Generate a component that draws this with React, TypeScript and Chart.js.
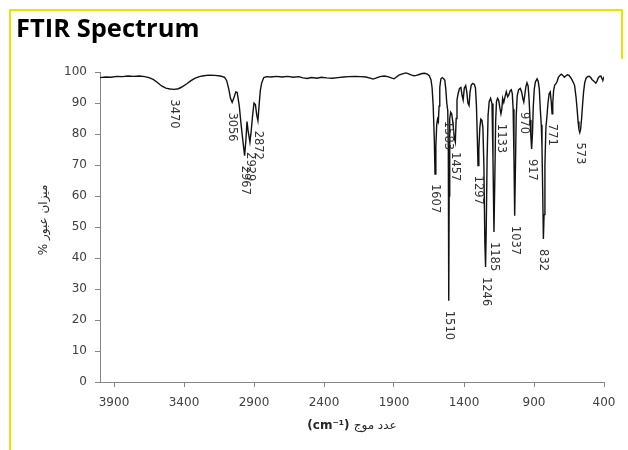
import { useEffect, useRef } from "react";
import { Chart, registerables } from "chart.js";
Chart.register(...registerables);

const wavenumbers = [
  4000, 3960, 3920, 3880, 3840, 3800, 3760, 3720, 3680, 3650, 3620, 3590, 3560, 3530, 3500, 3470, 3440, 3410, 3380, 3350,
  3320, 3290, 3260, 3220, 3180, 3140, 3110, 3095, 3080, 3068, 3056, 3045, 3030, 3020, 3005, 2992, 2980, 2967, 2958, 2950,
  2942, 2929, 2920, 2910, 2900, 2890, 2880, 2872, 2864, 2855, 2845, 2830, 2810, 2780, 2740, 2700, 2660, 2620, 2580, 2550,
  2520, 2490, 2450, 2420, 2380, 2340, 2300, 2260, 2220, 2180, 2140, 2100, 2070, 2050, 2030, 2000, 1970, 1945, 1920, 1900,
  1885, 1865, 1840, 1815, 1795, 1775, 1755, 1740, 1720, 1700, 1680, 1662, 1648, 1636, 1628, 1620, 1612, 1607, 1601, 1595,
  1589, 1583, 1578, 1573, 1565, 1555, 1545, 1537, 1530, 1523, 1516, 1512, 1509, 1506, 1502, 1495, 1488, 1480, 1470, 1462,
  1456, 1450, 1442, 1432, 1422, 1414, 1406, 1398, 1388, 1380, 1372, 1364, 1357, 1348, 1338, 1326, 1318, 1311, 1305, 1300,
  1294, 1287, 1280, 1272, 1265, 1258, 1251, 1246, 1241, 1235, 1228, 1220, 1210, 1200, 1193, 1186, 1180, 1174, 1168, 1160,
  1152, 1144, 1136, 1130, 1124, 1116, 1108, 1098, 1088, 1080, 1070, 1062, 1055, 1049, 1043, 1038, 1033, 1027, 1020, 1010,
  998, 988, 980, 973, 966, 958, 950, 942, 935, 928, 922, 917, 911, 905, 898, 890, 878, 870, 862, 855,
  848, 843, 838, 833, 828, 822, 815, 808, 800, 792, 784, 777, 771, 766, 760, 752, 742, 734, 726, 715,
  705, 694, 683, 673, 662, 650, 640, 630, 620, 610, 600, 592, 585, 579, 573, 567, 560, 553, 546, 538,
  528, 518, 506, 496, 486, 476, 466, 458, 450, 442, 432, 422, 414, 408, 402, 400,
];

const transmittance = [
  98.2, 98.4, 98.3, 98.6, 98.5, 98.7, 98.6, 98.7, 98.5, 98.2, 97.6, 96.6, 95.5, 94.8, 94.5, 94.4, 94.6, 95.3, 96.2, 97.2,
  98.0, 98.5, 98.8, 99.0, 98.9, 98.7, 98.3, 97.2, 94.5, 91.5, 90.2, 91.5, 93.6, 93.4, 89, 83, 78, 73.0, 78, 84,
  81, 77.4, 81, 86, 90, 89.5, 86, 84.3, 89, 94, 96.5, 98.2, 98.5, 98.4, 98.6, 98.4, 98.6, 98.3, 98.5, 98.1,
  97.9, 98.2, 98.0, 98.3, 98.1, 98.0, 98.2, 98.4, 98.5, 98.6, 98.5, 98.4, 98.0, 97.7, 98.0, 98.5, 98.7, 98.5, 98.1, 97.8,
  98.3, 99.0, 99.4, 99.7, 99.4, 99.0, 98.8, 98.9, 99.2, 99.5, 99.6, 99.3, 98.8, 97.5, 95, 89, 78, 67.1, 76, 83,
  84.8, 84, 89, 95, 97.8, 98.2, 97.8, 97.3, 94.5, 90, 87.5, 75, 26.2, 60, 85, 87, 86.5, 84, 79, 77.4,
  85, 91, 93, 94.7, 95, 92.5, 91, 94.8, 95.6, 93.5, 90, 89.2, 93.5, 95.8, 96.3, 96, 94.8, 89, 79, 69.8,
  75, 82, 84.8, 84.4, 82, 70, 45, 37.1, 50, 72, 86, 90.5, 91.5, 89.8, 72, 48.4, 65, 84, 90.5, 91.5,
  90.8, 88.5, 86.5, 88, 91.5, 90.2, 91.8, 93.6, 92, 92.6, 94, 94.3, 93, 88, 72, 53.6, 68, 86, 92.3, 94.3,
  94.7, 93.5, 91.5, 90.3, 92.5, 95.3, 96.5, 95.5, 91, 84.5, 79, 75.2, 80, 89, 94.5, 96.8, 97.8, 97, 94.5, 88,
  83, 76, 62, 46.1, 54, 70, 82, 85.5, 90, 93, 93.6, 90.5, 86.5, 90, 94, 95.8, 96.3, 97, 98.3, 98.9,
  99.3, 98.9, 98.3, 98.7, 99.1, 98.9, 98.3, 97.6, 96.7, 95.7, 92, 88, 84, 81.5, 80.5, 81.5, 85, 89.5, 93.5, 96.5,
  98, 98.5, 98.6, 98.3, 97.6, 97.2, 96.8, 96.4, 97, 98, 98.6, 98.7, 97.8, 97.5, 98.1, 97.8,
];

const peakLabels = ["3470", "3056", "2967", "2929", "2872", "1607", "1583", "1510", "1457", "1297", "1246", "1185", "1133", "1037", "970", "917", "832", "771", "573"];
const peakWn = [3470, 3056, 2967, 2929, 2872, 1607, 1513, 1509, 1462, 1300, 1246, 1186, 1136, 1038, 973, 917, 833, 771, 573];
const peakT = [94.4, 90.2, 73.0, 77.4, 84.3, 67.1, 87.5, 26.2, 77.4, 69.8, 37.1, 48.4, 86.5, 53.6, 90.3, 75.2, 46.1, 86.5, 80.5];

const xTickValues = [400, 900, 1400, 1900, 2400, 2900, 3400, 3900];

const chartTitle = "FTIR Spectrum";
const yTitle = "% میزان عبور";
const xTitleLatin = "(cm⁻¹)";
const xTitleArabic = "عدد موج";

const AXIS = "#868686";
const TICK_TEXT = "#404040";

export default function App() {
  const ref = useRef<HTMLCanvasElement>(null);
  useEffect(() => {
    document.body.style.margin = "0";
    const annot = {
      id: "annot",
      afterDraw(chart: any) {
        const ctx = chart.ctx as CanvasRenderingContext2D;
        const xs = chart.scales.x;
        const ys = chart.scales.y;
        ctx.save();
        ctx.direction = "ltr";
        // frame
        ctx.fillStyle = "#e6e600";
        ctx.fillRect(9, 9, 614, 2);
        ctx.fillRect(9, 9, 2, 441);
        ctx.fillRect(621, 9, 2, 50);
        // title
        ctx.fillStyle = "#000";
        ctx.font = "bold 25.5px 'Open Sans'";
        ctx.textAlign = "left";
        ctx.textBaseline = "alphabetic";
        ctx.fillText(chartTitle, 16, 37);
        // peak labels
        ctx.fillStyle = "#333";
        ctx.font = "11.5px 'DejaVu Sans'";
        for (let i = 0; i < peakLabels.length; i++) {
          const px = xs.getPixelForValue(peakWn[i]);
          const py = ys.getPixelForValue(peakT[i]) + 10;
          ctx.save();
          ctx.translate(px, py);
          ctx.rotate(Math.PI / 2);
          ctx.textAlign = "left";
          ctx.textBaseline = "middle";
          ctx.fillText(peakLabels[i], 0, 0);
          ctx.restore();
        }
        // y title
        ctx.fillStyle = "#262626";
        ctx.font = "12px 'DejaVu Sans'";
        ctx.save();
        ctx.translate(44, 220);
        ctx.rotate(-Math.PI / 2);
        ctx.textAlign = "center";
        ctx.textBaseline = "middle";
        ctx.fillText(yTitle, 0, 0);
        ctx.restore();
        // x title
        const cx = (chart.chartArea.left + chart.chartArea.right) / 2;
        ctx.font = "bold 12px 'DejaVu Sans'";
        const w1 = ctx.measureText(xTitleLatin + " ").width;
        ctx.font = "12px 'DejaVu Sans'";
        const w2 = ctx.measureText(xTitleArabic).width;
        const sx = cx - (w1 + w2) / 2;
        ctx.textBaseline = "middle";
        ctx.textAlign = "left";
        ctx.font = "bold 12px 'DejaVu Sans'";
        ctx.fillText(xTitleLatin, sx, 426);
        ctx.font = "12px 'DejaVu Sans'";
        ctx.fillText(xTitleArabic, sx + w1, 426);
        ctx.restore();
      },
    };
    const chart = new Chart(ref.current!, {
      type: "scatter",
      data: {
        datasets: [
          {
            data: wavenumbers.map((w, i) => ({ x: w, y: transmittance[i] })),
            showLine: true,
            borderColor: "#111",
            borderWidth: 1.4,
            pointRadius: 0,
            tension: 0,
            fill: false,
          },
        ],
      },
      options: {
        responsive: false,
        animation: false,
        devicePixelRatio: 1,
        layout: { padding: { top: 72, right: 24, left: 0, bottom: 0 } },
        plugins: { legend: { display: false }, tooltip: { enabled: false } },
        scales: {
          x: {
            type: "linear",
            reverse: true,
            min: 400,
            max: 4000,
            afterBuildTicks: (s: any) => {
              s.ticks = xTickValues.map((v) => ({ value: v }));
            },
            afterFit: (s: any) => {
              s.height = 68;
            },
            ticks: {
              autoSkip: false,
              maxRotation: 0,
              padding: 9,
              color: TICK_TEXT,
              font: { family: "DejaVu Sans", size: 12 },
              callback: (v: any) => String(v),
            },
            grid: { display: true, drawOnChartArea: false, drawTicks: true, tickLength: 5, color: AXIS },
            border: { display: true, color: AXIS, width: 1 },
          },
          y: {
            min: 0,
            max: 100,
            afterFit: (s: any) => {
              s.width = 100;
            },
            ticks: {
              stepSize: 10,
              padding: 8,
              color: TICK_TEXT,
              font: { family: "DejaVu Sans", size: 12 },
            },
            grid: { display: true, drawOnChartArea: false, drawTicks: true, tickLength: 5, color: AXIS },
            border: { display: true, color: AXIS, width: 1 },
          },
        },
      },
      plugins: [annot],
    } as any);
    return () => chart.destroy();
  }, []);
  return (
    <div style={{ position: "absolute", left: 0, top: 0, width: 628, height: 450 }}>
      <canvas ref={ref} width={628} height={450} style={{ width: 628, height: 450 }} />
    </div>
  );
}
